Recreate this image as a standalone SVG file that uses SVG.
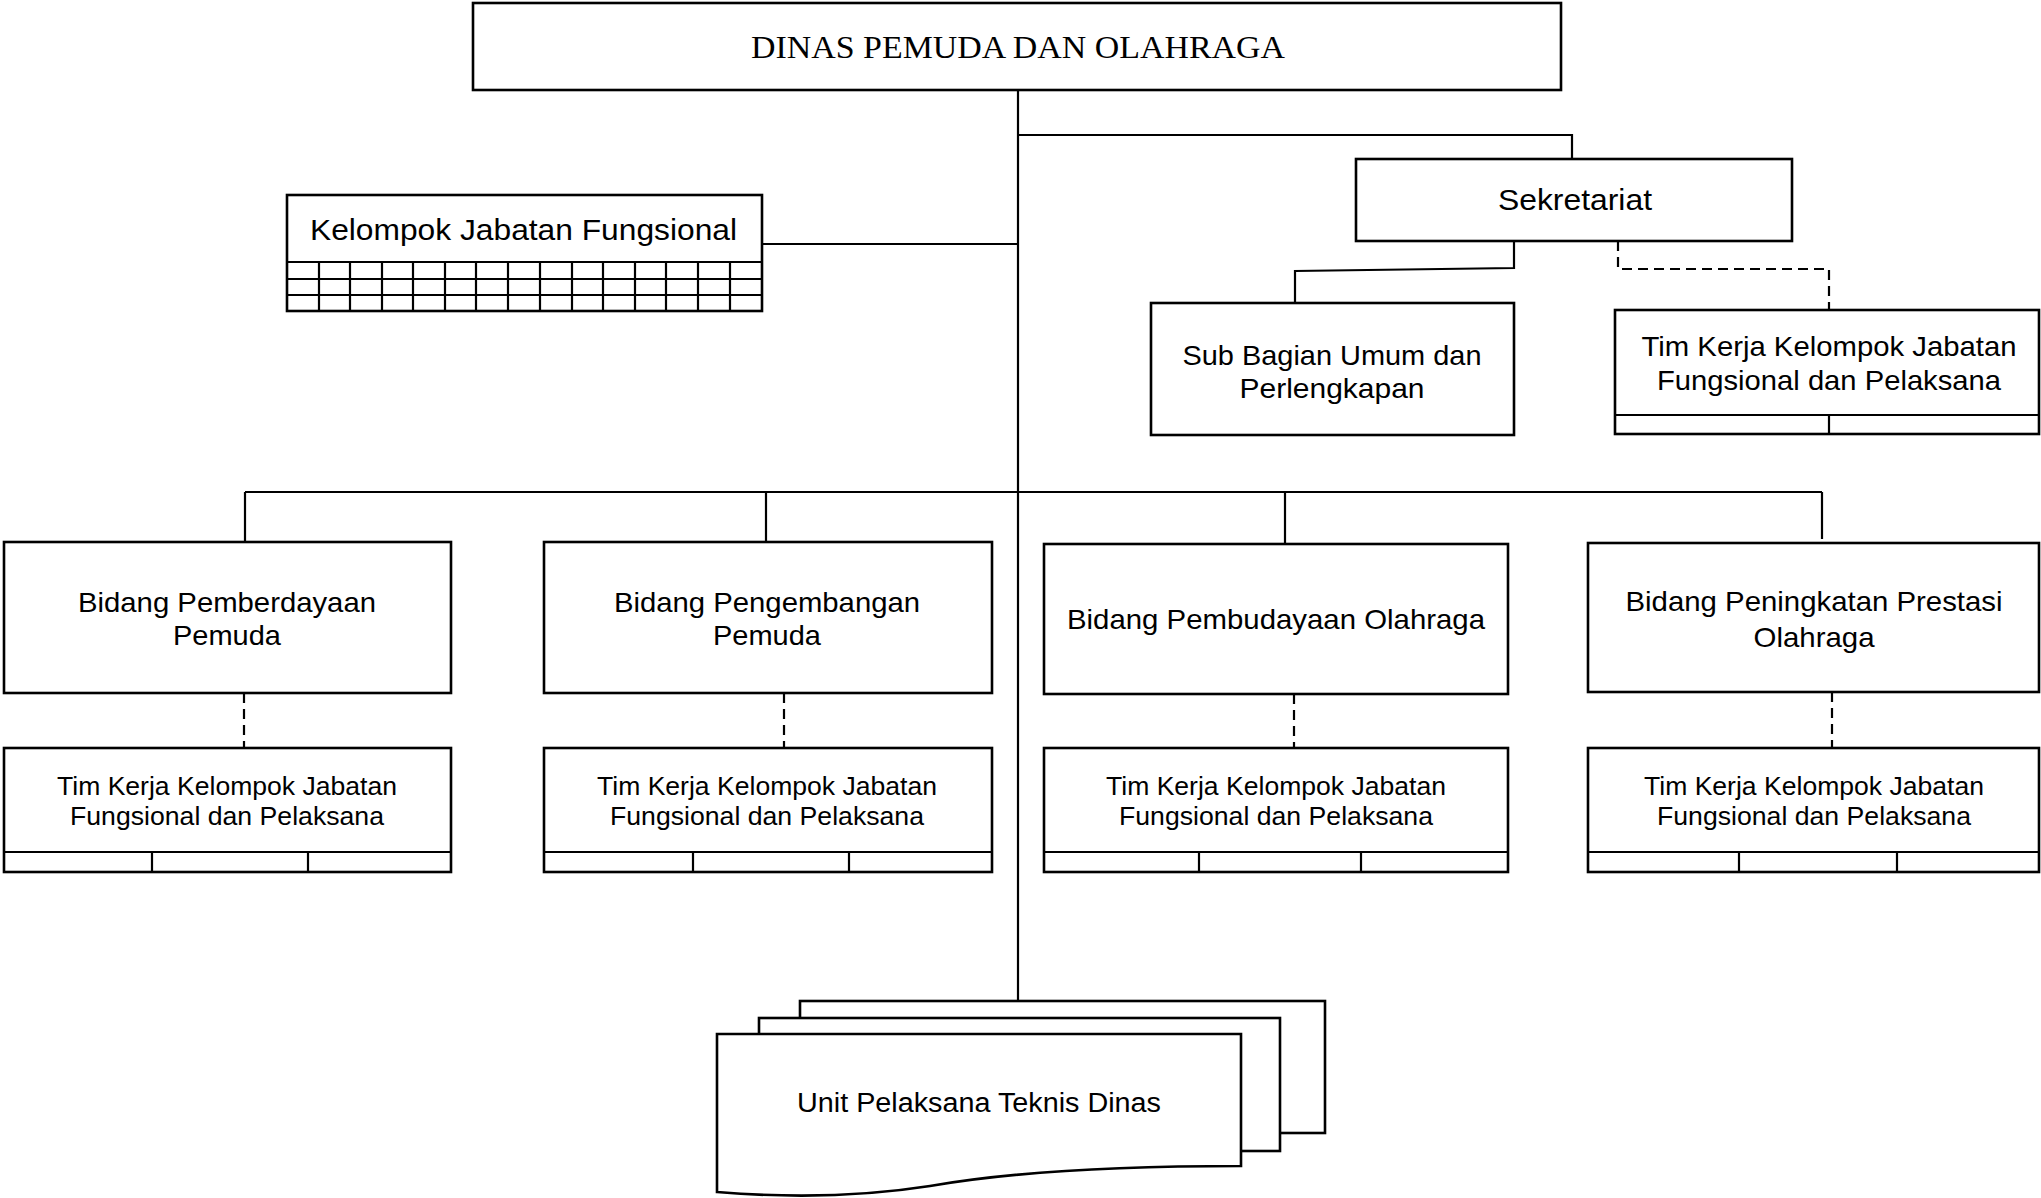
<svg xmlns="http://www.w3.org/2000/svg" width="2041" height="1198" viewBox="0 0 2041 1198">
<style>
.box{fill:#fff;stroke:#000;stroke-width:2.6}
.ln{fill:none;stroke:#000;stroke-width:2.2}
.dash{fill:none;stroke:#000;stroke-width:2.2;stroke-dasharray:10 6}
.t{font-family:"Liberation Sans",Arial,sans-serif;fill:#000;text-anchor:middle}
.serif{font-family:"Liberation Serif","Times New Roman",serif;fill:#000;text-anchor:middle}
</style>
<rect width="2041" height="1198" fill="#fff"/>
<g id="connectors">
<path class="ln" d="M1018,90 V1001"/>
<path class="ln" d="M1018,135 H1572 V159"/>
<path class="ln" d="M763,244 H1018"/>
<path class="ln" d="M245,492 H1822"/>
<path class="ln" d="M245,492 V542 M766,492 V542 M1285,492 V544 M1822,492 V539"/>
<path class="ln" d="M1514,241 V268 L1295,271 V303"/>
<path class="dash" d="M1618,241 V269 H1829 V310"/>
<path class="dash" d="M244,693 V748 M784,693 V748 M1294,694 V748 M1832,692 V748"/>
</g>
<g id="dinas">
<rect class="box" x="473" y="3" width="1088" height="87" stroke-width="3"/>
<text class="serif" x="1018" y="58" font-size="31" textLength="534" lengthAdjust="spacingAndGlyphs">DINAS PEMUDA DAN OLAHRAGA</text>
</g>
<g id="kelompok">
<rect class="box" x="287" y="195" width="475" height="116"/>
<path class="ln" d="M287,262 H762 M287,279 H762 M287,295 H762 M319,262 V311 M350,262 V311 M382,262 V311 M413,262 V311 M445,262 V311 M476,262 V311 M508,262 V311 M540,262 V311 M572,262 V311 M603,262 V311 M635,262 V311 M666,262 V311 M698,262 V311 M730,262 V311"/>
<text class="t" x="523.5" y="240" font-size="29.5" textLength="427" lengthAdjust="spacingAndGlyphs">Kelompok Jabatan Fungsional</text>
</g>
<g id="sekretariat">
<rect class="box" x="1356" y="159" width="436" height="82"/>
<text class="t" x="1575" y="210" font-size="30" textLength="154" lengthAdjust="spacingAndGlyphs">Sekretariat</text>
</g>
<g id="subbagian">
<rect class="box" x="1151" y="303" width="363" height="132"/>
<text class="t" x="1332" y="365" font-size="28" textLength="299" lengthAdjust="spacingAndGlyphs">Sub Bagian Umum dan</text>
<text class="t" x="1332" y="398" font-size="28" textLength="185" lengthAdjust="spacingAndGlyphs">Perlengkapan</text>
</g>
<g id="timkerja-sekretariat">
<rect class="box" x="1615" y="310" width="424" height="124"/>
<path class="ln" d="M1615,415 H2039 M1829,415 V434"/>
<text class="t" x="1829" y="356" font-size="28" textLength="375" lengthAdjust="spacingAndGlyphs">Tim Kerja Kelompok Jabatan</text>
<text class="t" x="1829" y="390" font-size="28" textLength="344" lengthAdjust="spacingAndGlyphs">Fungsional dan Pelaksana</text>
</g>
<g id="bidang1">
<rect class="box" x="4" y="542" width="447" height="151"/>
<text class="t" x="227" y="612" font-size="28" textLength="298" lengthAdjust="spacingAndGlyphs">Bidang Pemberdayaan</text>
<text class="t" x="227" y="645" font-size="28" textLength="108" lengthAdjust="spacingAndGlyphs">Pemuda</text>
</g>
<g id="bidang2">
<rect class="box" x="544" y="542" width="448" height="151"/>
<text class="t" x="767" y="612" font-size="28" textLength="306" lengthAdjust="spacingAndGlyphs">Bidang Pengembangan</text>
<text class="t" x="767" y="645" font-size="28" textLength="108" lengthAdjust="spacingAndGlyphs">Pemuda</text>
</g>
<g id="bidang3">
<rect class="box" x="1044" y="544" width="464" height="150"/>
<text class="t" x="1276" y="629" font-size="28" textLength="418" lengthAdjust="spacingAndGlyphs">Bidang Pembudayaan Olahraga</text>
</g>
<g id="bidang4">
<rect class="box" x="1588" y="543" width="451" height="149"/>
<text class="t" x="1814" y="611" font-size="28" textLength="377" lengthAdjust="spacingAndGlyphs">Bidang Peningkatan Prestasi</text>
<text class="t" x="1814" y="647" font-size="28" textLength="121" lengthAdjust="spacingAndGlyphs">Olahraga</text>
</g>
<g id="timkerja1">
<rect class="box" x="4" y="748" width="447" height="124"/>
<path class="ln" d="M4,852 H451 M152,852 V872 M308,852 V872"/>
<text class="t" x="227" y="795" font-size="26" textLength="340" lengthAdjust="spacingAndGlyphs">Tim Kerja Kelompok Jabatan</text>
<text class="t" x="227" y="825" font-size="26" textLength="314" lengthAdjust="spacingAndGlyphs">Fungsional dan Pelaksana</text>
</g>
<g id="timkerja2">
<rect class="box" x="544" y="748" width="448" height="124"/>
<path class="ln" d="M544,852 H992 M693,852 V872 M849,852 V872"/>
<text class="t" x="767" y="795" font-size="26" textLength="340" lengthAdjust="spacingAndGlyphs">Tim Kerja Kelompok Jabatan</text>
<text class="t" x="767" y="825" font-size="26" textLength="314" lengthAdjust="spacingAndGlyphs">Fungsional dan Pelaksana</text>
</g>
<g id="timkerja3">
<rect class="box" x="1044" y="748" width="464" height="124"/>
<path class="ln" d="M1044,852 H1508 M1199,852 V872 M1361,852 V872"/>
<text class="t" x="1276" y="795" font-size="26" textLength="340" lengthAdjust="spacingAndGlyphs">Tim Kerja Kelompok Jabatan</text>
<text class="t" x="1276" y="825" font-size="26" textLength="314" lengthAdjust="spacingAndGlyphs">Fungsional dan Pelaksana</text>
</g>
<g id="timkerja4">
<rect class="box" x="1588" y="748" width="451" height="124"/>
<path class="ln" d="M1588,852 H2039 M1739,852 V872 M1897,852 V872"/>
<text class="t" x="1814" y="795" font-size="26" textLength="340" lengthAdjust="spacingAndGlyphs">Tim Kerja Kelompok Jabatan</text>
<text class="t" x="1814" y="825" font-size="26" textLength="314" lengthAdjust="spacingAndGlyphs">Fungsional dan Pelaksana</text>
</g>
<g id="upt">
<rect class="box" x="800" y="1001" width="525" height="132"/>
<rect class="box" x="759" y="1018" width="521" height="133"/>
<path class="box" d="M717,1034 H1241 V1166 C1120,1166 1010,1172 930,1186 C860,1197 790,1198 717,1192 Z"/>
<text class="t" x="979" y="1112" font-size="27" textLength="364" lengthAdjust="spacingAndGlyphs">Unit Pelaksana Teknis Dinas</text>
</g>
</svg>
